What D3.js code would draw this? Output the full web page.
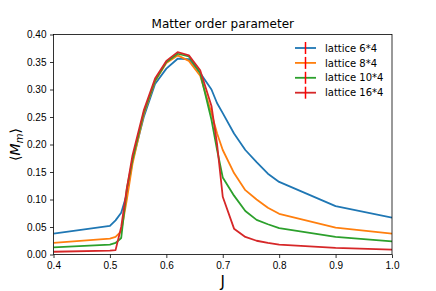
<!DOCTYPE html>
<html lang="en">
<head>
<meta charset="utf-8">
<title>Matter order parameter</title>
<script src="https://d3js.org/d3.v7.min.js"></script>
<style>
  body { margin: 0; background: #fff; }
  svg { font-family: "DejaVu Sans", sans-serif; }
  .axis path, .axis line { stroke: #000; stroke-width: 0.8; }
  .axis text { font-size: 10px; fill: #000; }
</style>
</head>
<body>
<div id="chart"></div>
<script>
// J values (x) and order parameter per lattice
var jValues = [0.4, 0.5, 0.51, 0.52, 0.53, 0.54, 0.56, 0.58, 0.6, 0.62, 0.64, 0.66, 0.68, 0.69, 0.7, 0.72, 0.74, 0.76, 0.78, 0.8, 0.9, 1.0];
var lattice6  = [0.038, 0.052, 0.062, 0.076, 0.110, 0.170, 0.250, 0.310, 0.338, 0.356, 0.355, 0.330, 0.300, 0.275, 0.257, 0.220, 0.190, 0.168, 0.147, 0.132, 0.088, 0.067];
var lattice8  = [0.021, 0.029, 0.032, 0.042, 0.100, 0.165, 0.255, 0.315, 0.348, 0.362, 0.352, 0.325, 0.257, 0.220, 0.190, 0.148, 0.117, 0.100, 0.085, 0.074, 0.049, 0.038];
var lattice10 = [0.013, 0.018, 0.021, 0.030, 0.120, 0.172, 0.258, 0.316, 0.350, 0.365, 0.360, 0.330, 0.245, 0.190, 0.140, 0.107, 0.079, 0.063, 0.055, 0.048, 0.032, 0.024];
var lattice16 = [0.005, 0.007, 0.008, 0.050, 0.120, 0.180, 0.262, 0.320, 0.352, 0.368, 0.362, 0.335, 0.270, 0.200, 0.105, 0.047, 0.032, 0.025, 0.021, 0.018, 0.012, 0.009];
var seriesNames = ["lattice 6*4", "lattice 8*4", "lattice 10*4", "lattice 16*4"];
var seriesColors = ["#1f77b4", "#ff7f0e", "#2ca02c", "#d62728"];
var xTicks = [0.4, 0.5, 0.6, 0.7, 0.8, 0.9, 1.0];
var yTicks = [0, 0.05, 0.1, 0.15, 0.2, 0.25, 0.3, 0.35, 0.4];

var allSeries = [lattice6, lattice8, lattice10, lattice16];

var W = 436, H = 291;
var margin = {top: 34.5, right: 44, bottom: 36.5, left: 53.5};
var width = W - margin.left - margin.right,
    height = H - margin.top - margin.bottom;

var svg = d3.select("#chart").append("svg")
    .attr("width", W).attr("height", H);

var g = svg.append("g")
    .attr("transform", "translate(" + margin.left + "," + margin.top + ")");

var x = d3.scaleLinear().domain([0.4, 1.0]).range([0, width]);
var y = d3.scaleLinear().domain([0, 0.4]).range([height, 0]);

// clip so lines don't spill over the frame
g.append("clipPath").attr("id", "clip")
  .append("rect").attr("width", width).attr("height", height);

var line = d3.line()
    .x(function(d, i) { return x(jValues[i]); })
    .y(function(d) { return y(d); });

var plot = g.append("g").attr("clip-path", "url(#clip)");
allSeries.forEach(function(s, k) {
  plot.append("path")
    .datum(s)
    .attr("fill", "none")
    .attr("stroke", seriesColors[k])
    .attr("stroke-width", 1.8)
    .attr("stroke-linejoin", "round")
    .attr("d", line);
});

// axes
g.append("g").attr("class", "x axis")
  .attr("transform", "translate(0," + height + ")")
  .call(d3.axisBottom(x).tickValues(xTicks).tickFormat(d3.format(".1f")).tickSize(3.5).tickPadding(3.5));
g.append("g").attr("class", "y axis")
  .call(d3.axisLeft(y).tickValues(yTicks).tickFormat(d3.format(".2f")).tickSize(3.5).tickPadding(3.5));
g.selectAll(".axis .domain").remove();

// frame
g.append("rect")
  .attr("width", width).attr("height", height)
  .attr("fill", "none").attr("stroke", "#000").attr("stroke-width", 0.8);

// title
svg.append("text")
  .attr("x", margin.left + width / 2).attr("y", margin.top - 7)
  .attr("text-anchor", "middle")
  .style("font-size", "12px")
  .text("Matter order parameter");

// axis labels
svg.append("text")
  .attr("x", margin.left + width / 2).attr("y", 287)
  .attr("text-anchor", "middle")
  .style("font-size", "15px")
  .text("J");

var yl = svg.append("text")
  .attr("transform", "translate(20," + (margin.top + height / 2) + ") rotate(-90)")
  .attr("text-anchor", "middle")
  .style("font-size", "14px");
yl.append("tspan").text("\u27E8");
yl.append("tspan").style("font-style", "italic").text("M");
yl.append("tspan").style("font-style", "italic").style("font-size", "10px").attr("dy", 3).text("m");
yl.append("tspan").attr("dy", -3).text("\u27E9");

// legend
var leg = svg.append("g").attr("transform", "translate(295,48)");
seriesNames.forEach(function(name, k) {
  var row = leg.append("g").attr("transform", "translate(0," + (k * 14.9) + ")");
  row.append("line").attr("x1", 0).attr("x2", 21).attr("y1", 0).attr("y2", 0)
    .attr("stroke", seriesColors[k]).attr("stroke-width", 1.8);
  row.append("line").attr("x1", 10.5).attr("x2", 10.5).attr("y1", -6).attr("y2", 6)
    .attr("stroke", "#ff0000").attr("stroke-width", 1.5);
  row.append("text").attr("x", 30).attr("y", 3.6)
    .style("font-size", "10px").text(name);
});
</script>
</body>
</html>
